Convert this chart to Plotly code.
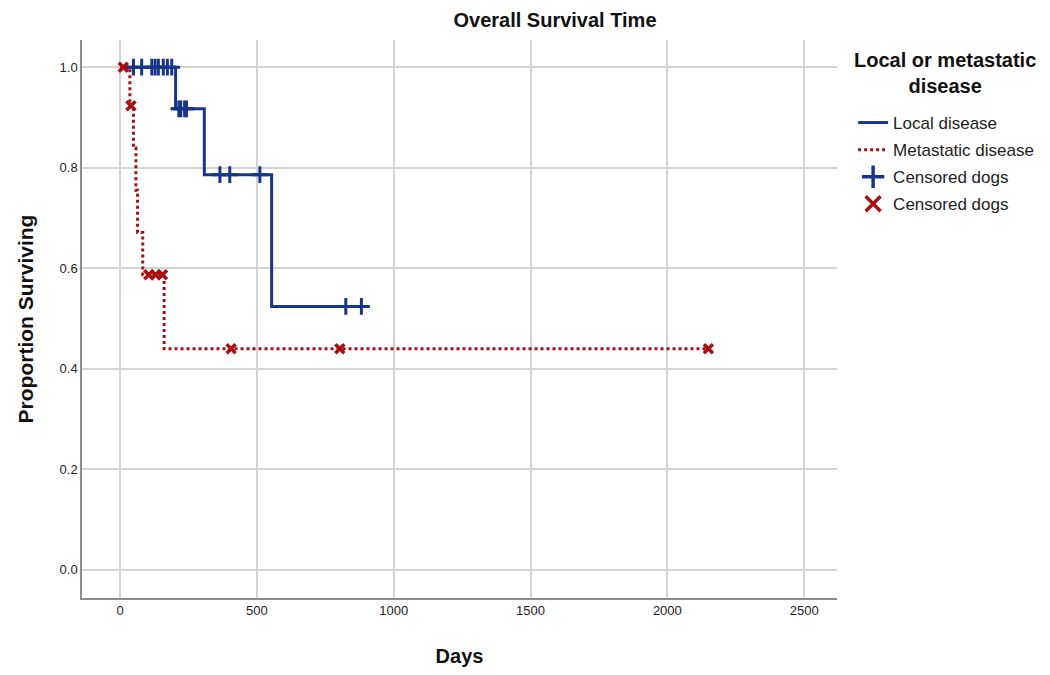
import plotly.graph_objects as go

# Kaplan-Meier step curves (days, proportion surviving) and censoring times
local_step_days = [0, 203, 308, 554, 888]
local_surv = [1.0, 0.917, 0.786, 0.524, 0.524]
local_censor_days = [49, 79, 116, 128, 140, 158, 173, 189,
                     215, 222, 236, 243, 365, 401, 511, 825, 882]

meta_step_days = [0, 36, 49, 58, 64, 83, 161, 2150]
meta_surv = [1.0, 0.923, 0.839, 0.755, 0.671, 0.587, 0.440, 0.440]
meta_censor_days = [12, 40, 105, 130, 155, 406, 803, 2150]

x_ticks = [0, 500, 1000, 1500, 2000, 2500]
y_ticks = [0.0, 0.2, 0.4, 0.6, 0.8, 1.0]

BLUE = "#17368a"
RED = "#a80f12"


def level_at(day, days, surv):
    """Survival level of a step curve at a given day."""
    level = surv[0]
    for d, s in zip(days, surv):
        if d <= day:
            level = s
    return level


local_censor_y = [level_at(d, local_step_days, local_surv) for d in local_censor_days]
meta_censor_y = [level_at(d, meta_step_days, meta_surv) for d in meta_censor_days]

fig = go.Figure()

fig.add_trace(go.Scatter(
    x=local_step_days, y=local_surv, mode="lines", line_shape="hv",
    line=dict(color=BLUE, width=3), name="Local disease", legendgroup="a",
))
fig.add_trace(go.Scatter(
    x=meta_step_days, y=meta_surv, mode="lines", line_shape="hv",
    line=dict(color=RED, width=3, dash="dot"), name="Metastatic disease", legendgroup="b",
))
# censoring ticks on the curves
fig.add_trace(go.Scatter(
    x=local_censor_days, y=local_censor_y, mode="markers",
    marker=dict(symbol="cross-thin", size=12, line=dict(color=BLUE, width=3)),
    name="Censored dogs", legendgroup="c", showlegend=False,
))
fig.add_trace(go.Scatter(
    x=meta_censor_days, y=meta_censor_y, mode="markers",
    marker=dict(symbol="x-thin", size=9, line=dict(color=RED, width=3.5)),
    name="Censored dogs", legendgroup="d", showlegend=False,
))
# larger symbols for the legend entries
fig.add_trace(go.Scatter(
    x=[None], y=[None], mode="markers",
    marker=dict(symbol="cross-thin", size=20, line=dict(color=BLUE, width=3.5)),
    name="Censored dogs", legendgroup="c",
))
fig.add_trace(go.Scatter(
    x=[None], y=[None], mode="markers",
    marker=dict(symbol="x-thin", size=15, line=dict(color=RED, width=3.5)),
    name="Censored dogs", legendgroup="d",
))

tick_font = dict(family="Liberation Sans Narrow, Arial Narrow, Liberation Sans, Arial",
                 size=13, color="#222222")

fig.update_layout(
    width=1050, height=675,
    margin=dict(l=82, r=212, t=40, b=77),
    paper_bgcolor="white", plot_bgcolor="white",
    font=dict(family="Liberation Sans, Arial, sans-serif", color="#111111"),
    title=dict(text="<b>Overall Survival Time</b>", x=555 / 1050, xref="container",
               xanchor="center", y=1 - 20 / 675, yref="container", yanchor="middle",
               font=dict(size=20, color="#111111")),
    xaxis=dict(
        range=[-139, 2620], tickvals=x_ticks, ticktext=[str(v) for v in x_ticks],
        showgrid=True, gridcolor="#d4d4d4", gridwidth=1.5,
        showline=True, linecolor="#8c8c8c", linewidth=1.5, zeroline=False,
        ticks="", tickfont=tick_font,
        title=dict(text="<b>Days</b>", font=dict(size=20, color="#111111"), standoff=32),
    ),
    yaxis=dict(
        range=[-0.056, 1.054], tickvals=y_ticks, ticktext=[f"{v:.1f}" for v in y_ticks],
        showgrid=True, gridcolor="#d4d4d4", gridwidth=1.5,
        showline=True, linecolor="#8c8c8c", linewidth=1.5, zeroline=False,
        ticks="", tickfont=dict(family="Liberation Sans, Arial", size=13, color="#222222"),
        title=dict(text="<b>Proportion Surviving</b>", font=dict(size=21, color="#111111"),
                   standoff=20),
    ),
    legend=dict(
        x=1.02, xanchor="left", y=0.8835, yanchor="top",
        font=dict(size=17, color="#222222"),
        bgcolor="rgba(0,0,0,0)", itemwidth=30, tracegroupgap=2,
    ),
    annotations=[dict(
        text="<b>Local or metastatic<br>disease</b>", xref="paper", yref="paper",
        x=(946 - 82) / 756, y=1 - (73 - 40) / 558, xanchor="center", yanchor="middle",
        align="center", showarrow=False, font=dict(size=20, color="#111111"),
    )],
)

fig.write_html("out.html")
